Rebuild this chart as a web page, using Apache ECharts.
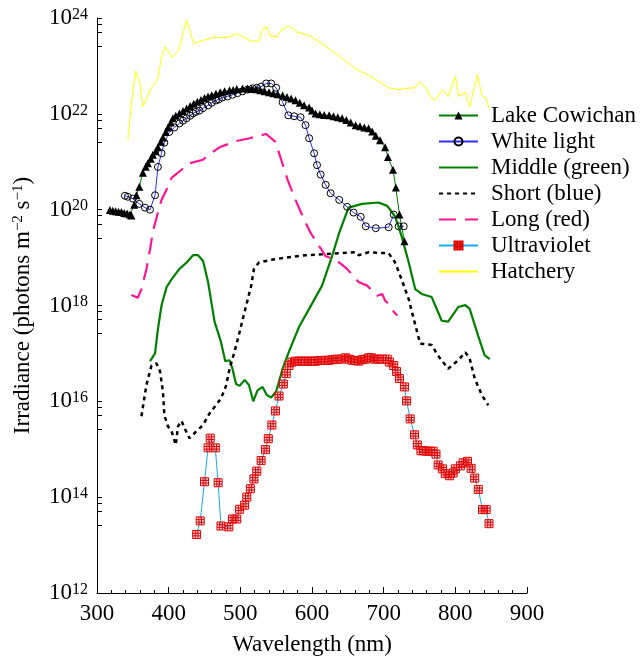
<!DOCTYPE html>
<html>
<head>
<meta charset="utf-8">
<script src="https://cdn.jsdelivr.net/npm/echarts@6/dist/echarts.min.js"></script>
<style>
  html, body { margin: 0; padding: 0; background: #fff; }
  #chart { width: 640px; height: 661px; }
</style>
</head>
<body>
<div id="chart"></div>
<script>
// === Données (longueur d'onde nm, irradiance photons m-2 s-1) ===
const lakeCowichan = [
  [318, 9.8e19], [322, 9.5e19], [326, 9.3e19], [330, 9.1e19], [334, 8.9e19], [338, 8.5e19],
  [342, 8.3e19], [346, 7.9e19], [348, 7.6e19], [352, 1.26e20], [355, 2.0e20], [359, 3.0e20],
  [364, 5.9e20], [368, 7.9e20], [371, 9.3e20], [375, 1.15e21], [378, 1.4e21], [382, 1.66e21],
  [385, 2.0e21], [389, 2.6e21], [392, 3.2e21], [396, 4.2e21], [399, 5.2e21], [403, 6.6e21],
  [406, 8.1e21], [410, 9.1e21], [415, 1.02e22], [420, 1.15e22], [425, 1.29e22], [430, 1.45e22],
  [435, 1.62e22], [440, 1.78e22], [445, 1.95e22], [450, 2.14e22], [455, 2.29e22], [460, 2.45e22],
  [466, 2.63e22], [472, 2.82e22], [478, 2.95e22], [485, 3.09e22], [490, 3.16e22], [495, 3.31e22],
  [503, 3.39e22], [510, 3.39e22], [516, 3.31e22], [522, 3.24e22], [528, 3.09e22], [534, 2.95e22],
  [540, 2.82e22], [546, 2.69e22], [552, 2.57e22], [559, 2.40e22], [565, 2.24e22], [571, 2.09e22],
  [577, 1.91e22], [583, 1.70e22], [589, 1.51e22], [596, 1.35e22], [600, 1.17e22], [605, 1.02e22],
  [611, 9.8e21], [617, 9.5e21], [624, 9.3e21], [630, 8.9e21], [636, 8.5e21], [642, 8.1e21],
  [648, 7.4e21], [654, 6.6e21], [661, 5.8e21], [667, 5.5e21], [673, 5.2e21], [679, 5.0e21],
  [684, 4.3e21], [689, 3.5e21], [695, 2.8e21], [702, 2.0e21], [706, 1.26e21], [713, 6.8e20],
  [717, 2.9e20], [722, 7.9e19], [729, 2.2e19]
];

const whiteLight = [
  [339, 1.95e20], [343, 1.86e20], [350, 1.7e20], [359, 1.32e20], [367, 1.1e20], [374, 1.0e20],
  [381, 2.0e20], [385, 7.8e20], [390, 1.5e21], [394, 2.5e21], [401, 4.2e21], [408, 5.2e21],
  [415, 6.3e21], [420, 7.2e21], [425, 8.1e21], [430, 9.1e21], [434, 1.02e22], [438, 1.1e22],
  [443, 1.17e22], [448, 1.32e22], [455, 1.5e22], [460, 1.7e22], [466, 1.9e22], [470, 2.0e22],
  [475, 2.2e22], [482, 2.3e22], [489, 2.5e22], [496, 2.7e22], [503, 2.95e22], [510, 3.2e22],
  [517, 3.4e22], [523, 3.5e22], [529, 3.7e22], [536, 4.3e22], [543, 4.3e22], [550, 3.5e22],
  [559, 1.74e22], [567, 9.3e21], [575, 8.9e21], [584, 8.5e21], [591, 5.8e21], [596, 3.1e21],
  [603, 1.5e21], [607, 8.5e20], [612, 5.4e20], [619, 3.3e20], [626, 2.2e20], [638, 1.6e20],
  [649, 1.15e20], [658, 8.7e19], [668, 7.1e19], [675, 4.5e19], [689, 4.1e19], [707, 4.3e19],
  [714, 7.9e19], [721, 4.5e19], [728, 4.5e19]
];

const middleGreen = [
  [374, 6.9e16], [381, 1.0e17], [385, 3.2e17], [390, 1.0e18], [397, 2.4e18], [404, 3.5e18],
  [415, 5.8e18], [425, 7.9e18], [434, 1.12e19], [441, 1.12e19], [448, 8.5e18], [455, 3.1e18],
  [464, 4.6e17], [473, 1.74e17], [479, 6.9e16], [485, 7.2e16], [489, 4.8e16], [494, 2.3e16],
  [499, 2.1e16], [506, 2.8e16], [512, 2.2e16], [518, 1.0e16], [524, 1.7e16], [531, 2.0e16],
  [537, 1.35e16], [543, 1.2e16], [550, 1.6e16], [559, 4.8e16], [568, 1.1e17], [582, 3.6e17],
  [596, 8.5e17], [614, 2.6e18], [628, 1.07e19], [638, 3.3e19], [651, 1.1e20], [670, 1.32e20],
  [693, 1.41e20], [705, 1.2e20], [716, 7.2e19], [725, 2.8e19], [735, 7.9e18], [744, 2.2e18],
  [753, 1.74e18], [767, 1.5e18], [781, 4.8e17], [790, 4.6e17], [804, 9.3e17], [814, 1.02e18],
  [820, 8.5e17], [832, 2.3e17], [841, 9.1e16], [848, 7.6e16]
];

const shortBlue = [
  [362, 4.9e15], [369, 2.2e16], [376, 5.6e16], [383, 6.2e16], [388, 4.2e16], [392, 1.6e16],
  [394, 5.1e15], [399, 3.0e15], [404, 2.4e15], [410, 1.23e15], [413, 3.0e15], [418, 3.9e15],
  [422, 2.8e15], [429, 1.7e15], [439, 2.4e15], [448, 3.2e15], [457, 5.6e15], [466, 8.3e15],
  [473, 1.15e16], [480, 2.1e16], [485, 4.8e16], [492, 1.1e17], [499, 2.8e17], [508, 9.8e17],
  [515, 2.5e18], [519, 5.8e18], [526, 7.9e18], [545, 9.1e18], [568, 1.02e19], [591, 1.12e19],
  [614, 1.17e19], [638, 1.23e19], [661, 1.29e19], [665, 1.12e19], [679, 1.29e19], [707, 1.23e19],
  [716, 7.9e18], [725, 3.5e18], [735, 1.35e18], [742, 5.2e17], [751, 1.6e17], [767, 1.5e17],
  [776, 8.9e16], [790, 4.8e16], [804, 7.2e16], [814, 1.05e17], [820, 7.8e16], [827, 3.0e16],
  [837, 1.35e16], [846, 8.3e15]
];

const longRed = [
  [348, 1.66e18], [357, 1.45e18], [362, 2.2e18], [369, 5.8e18], [374, 1.48e19], [378, 3.5e19],
  [385, 8.7e19], [390, 1.6e20], [397, 2.6e20], [404, 4.6e20], [413, 5.9e20], [429, 9.3e20],
  [448, 1.1e21], [455, 1.38e21], [471, 2.0e21], [494, 2.7e21], [513, 3.1e21], [536, 3.8e21],
  [549, 2.6e21], [557, 1.1e21], [566, 4.2e20], [577, 1.6e20], [589, 6.2e19], [598, 3.3e19],
  [610, 1.74e19], [619, 1.07e19], [633, 9.1e18], [649, 5.8e18], [665, 3.1e18], [677, 2.6e18],
  [691, 1.6e18], [698, 1.74e18], [702, 1.26e18], [709, 1.02e18], [714, 7.4e17], [719, 6.2e17]
];

const ultraviolet = [
  [439, 1.66e13], [444, 3.2e13], [450, 2.1e14], [455, 1.07e15], [458, 1.7e15], [465, 1.07e15],
  [469, 2.0e14], [473, 2.5e13], [484, 2.4e13], [489, 3.5e13], [495, 3.5e13], [499, 5.6e13],
  [506, 6.8e13], [509, 1.0e14], [514, 1.5e14], [519, 2.4e14], [523, 3.5e14], [529, 5.8e14],
  [535, 9.8e14], [539, 1.66e15], [544, 3.2e15], [549, 6.3e15], [554, 1.29e16], [560, 2.3e16],
  [564, 3.8e16], [568, 5.6e16], [572, 6.6e16], [577, 6.9e16], [582, 6.9e16], [587, 6.9e16],
  [591, 6.9e16], [596, 6.9e16], [601, 6.9e16], [605, 6.9e16], [610, 7.1e16], [615, 7.1e16],
  [619, 7.2e16], [624, 7.2e16], [629, 7.4e16], [635, 7.6e16], [641, 7.6e16], [647, 8.1e16],
  [652, 7.6e16], [656, 7.2e16], [661, 7.1e16], [665, 6.9e16], [670, 7.4e16], [675, 7.6e16],
  [679, 8.1e16], [683, 8.1e16], [688, 7.6e16], [693, 7.6e16], [698, 7.6e16], [705, 7.6e16],
  [708, 6.6e16], [714, 5.6e16], [718, 4.2e16], [722, 3.0e16], [729, 2.0e16], [732, 1.02e16],
  [737, 4.3e15], [743, 2.0e15], [747, 1.23e15], [752, 9.3e14], [756, 9.3e14], [760, 9.1e14],
  [765, 9.1e14], [769, 9.1e14], [773, 7.9e14], [776, 4.7e14], [782, 3.9e14], [786, 3.1e14],
  [792, 2.8e14], [797, 3.2e14], [800, 3.9e14], [807, 4.5e14], [811, 5.2e14], [817, 5.6e14],
  [822, 4.0e14], [827, 2.5e14], [832, 1.45e14], [838, 5.5e13], [843, 5.5e13], [847, 2.8e13]
];

const hatchery = [
  [343, 2.8e21], [350, 3.1e22], [354, 7.9e22], [360, 4.3e22], [364, 1.4e22], [374, 3.1e22],
  [385, 5.5e22], [390, 1.5e23], [395, 2.5e23], [405, 1.5e23], [414, 2.1e23], [425, 9.1e23],
  [435, 2.9e23], [445, 3.3e23], [462, 3.9e23], [482, 3.9e23], [495, 4.7e23], [515, 3.3e23],
  [526, 3.3e23], [531, 5.9e23], [537, 6.5e23], [541, 4.3e23], [552, 4.1e23], [557, 5.6e23],
  [567, 6.8e23], [580, 5.1e23], [596, 4.3e23], [614, 2.9e23], [638, 1.6e23], [661, 8.7e22],
  [684, 5.8e22], [707, 3.5e22], [721, 3.2e22], [730, 3.4e22], [744, 3.5e22], [749, 4.5e22],
  [758, 3.7e22], [767, 2.1e22], [772, 1.9e22], [779, 2.8e22], [783, 3.2e22], [790, 2.3e22],
  [800, 6.0e22], [805, 2.3e22], [814, 2.8e22], [820, 1.4e22], [831, 6.6e22], [837, 2.4e22],
  [842, 2.2e22], [847, 1.3e22]
];

const seriesNames = ["Lake Cowichan", "White light", "Middle (green)", "Short (blue)",
  "Long (red)", "Ultraviolet", "Hatchery"];

const police = "'Liberation Serif', 'Times New Roman', serif";

// carré quadrillé pour les UV
const carreUV = "path://M0,0H12V12H0Z M4,0V12 M8,0V12 M0,4H12 M0,8H12";

// courbe sans marqueur (symbole transparent pour que la légende ne montre que le trait)
function ligne(nom, data, couleur, largeur, type) {
  return {
    name: nom, type: "line", data: data, symbol: "none",
    lineStyle: { color: couleur, width: largeur, type: type || "solid" },
    itemStyle: { color: "rgba(0,0,0,0)", borderWidth: 0 }
  };
}

const chart = echarts.init(document.getElementById("chart"));

const option = {
  backgroundColor: "#fff",
  animation: false,
  textStyle: { fontFamily: police, color: "#000" },
  grid: { left: 97, right: 113, top: 18, bottom: 68 },
  legend: {
    orient: "vertical",
    left: 433, top: 99,
    itemWidth: 39, itemHeight: 10, itemGap: 3,
    data: seriesNames,
    textStyle: { fontFamily: police, fontSize: 23, color: "#000", lineHeight: 22, padding: [0, 0, 0, 8] }
  },
  xAxis: {
    type: "value", min: 300, max: 900, interval: 100,
    name: "Wavelength (nm)", nameLocation: "middle", nameGap: 40,
    nameTextStyle: { fontFamily: police, fontSize: 23, color: "#000" },
    axisLine: { lineStyle: { color: "#000", width: 1 } },
    axisTick: { inside: true, length: 6, lineStyle: { color: "#000" } },
    minorTick: { show: true, splitNumber: 5, length: 3, lineStyle: { color: "#000" } },
    axisLabel: { fontFamily: police, fontSize: 23, color: "#000", margin: 9 },
    splitLine: { show: false }
  },
  yAxis: {
    type: "log", logBase: 10, min: 1e12, max: 1e24, interval: 2,
    name: "Irradiance (photons m{sup|−2} s{sup|−1})", nameLocation: "middle", nameGap: 63,
    nameTextStyle: {
      fontFamily: police, fontSize: 23, color: "#000",
      rich: { sup: { fontFamily: police, fontSize: 15, verticalAlign: "top", color: "#000" } }
    },
    axisLine: { show: true, lineStyle: { color: "#000", width: 1 } },
    axisTick: { inside: true, length: 5, lineStyle: { color: "#000" } },
    minorTick: { show: true, splitNumber: 4, length: 5, lineStyle: { color: "#000" } },
    axisLabel: {
      margin: 9,
      formatter: v => "10{sup|" + Math.round(Math.log10(v)) + "}",
      fontFamily: police, fontSize: 23, color: "#000",
      rich: { sup: { fontFamily: police, fontSize: 16, verticalAlign: "top", color: "#000" } }
    },
    splitLine: { show: false }
  },
  series: [
    {
      name: "Lake Cowichan", type: "line", data: lakeCowichan,
      symbol: "triangle", symbolSize: 8,
      lineStyle: { color: "#008000", width: 1 },
      itemStyle: { color: "#000" }
    },
    {
      name: "White light", type: "line", data: whiteLight,
      symbol: "circle", symbolSize: 7,
      lineStyle: { color: "#2e2eff", width: 1 },
      itemStyle: { color: "rgba(255,255,255,0)", borderColor: "#000", borderWidth: 1 }
    },
    ligne("Middle (green)", middleGreen, "#008000", 2.2),
    ligne("Short (blue)", shortBlue, "#000", 2.5, [4, 4]),
    ligne("Long (red)", longRed, "#ff1493", 2.2, [17, 9]),
    {
      name: "Ultraviolet", type: "line", data: ultraviolet,
      symbol: carreUV, symbolSize: 8,
      lineStyle: { color: "#12aef0", width: 1 },
      itemStyle: { color: "rgba(255,150,150,0.35)", borderColor: "#e00000", borderWidth: 1 }
    },
    ligne("Hatchery", hatchery, "#ffff00", 1)
  ]
};

chart.setOption(option);
</script>
</body>
</html>
